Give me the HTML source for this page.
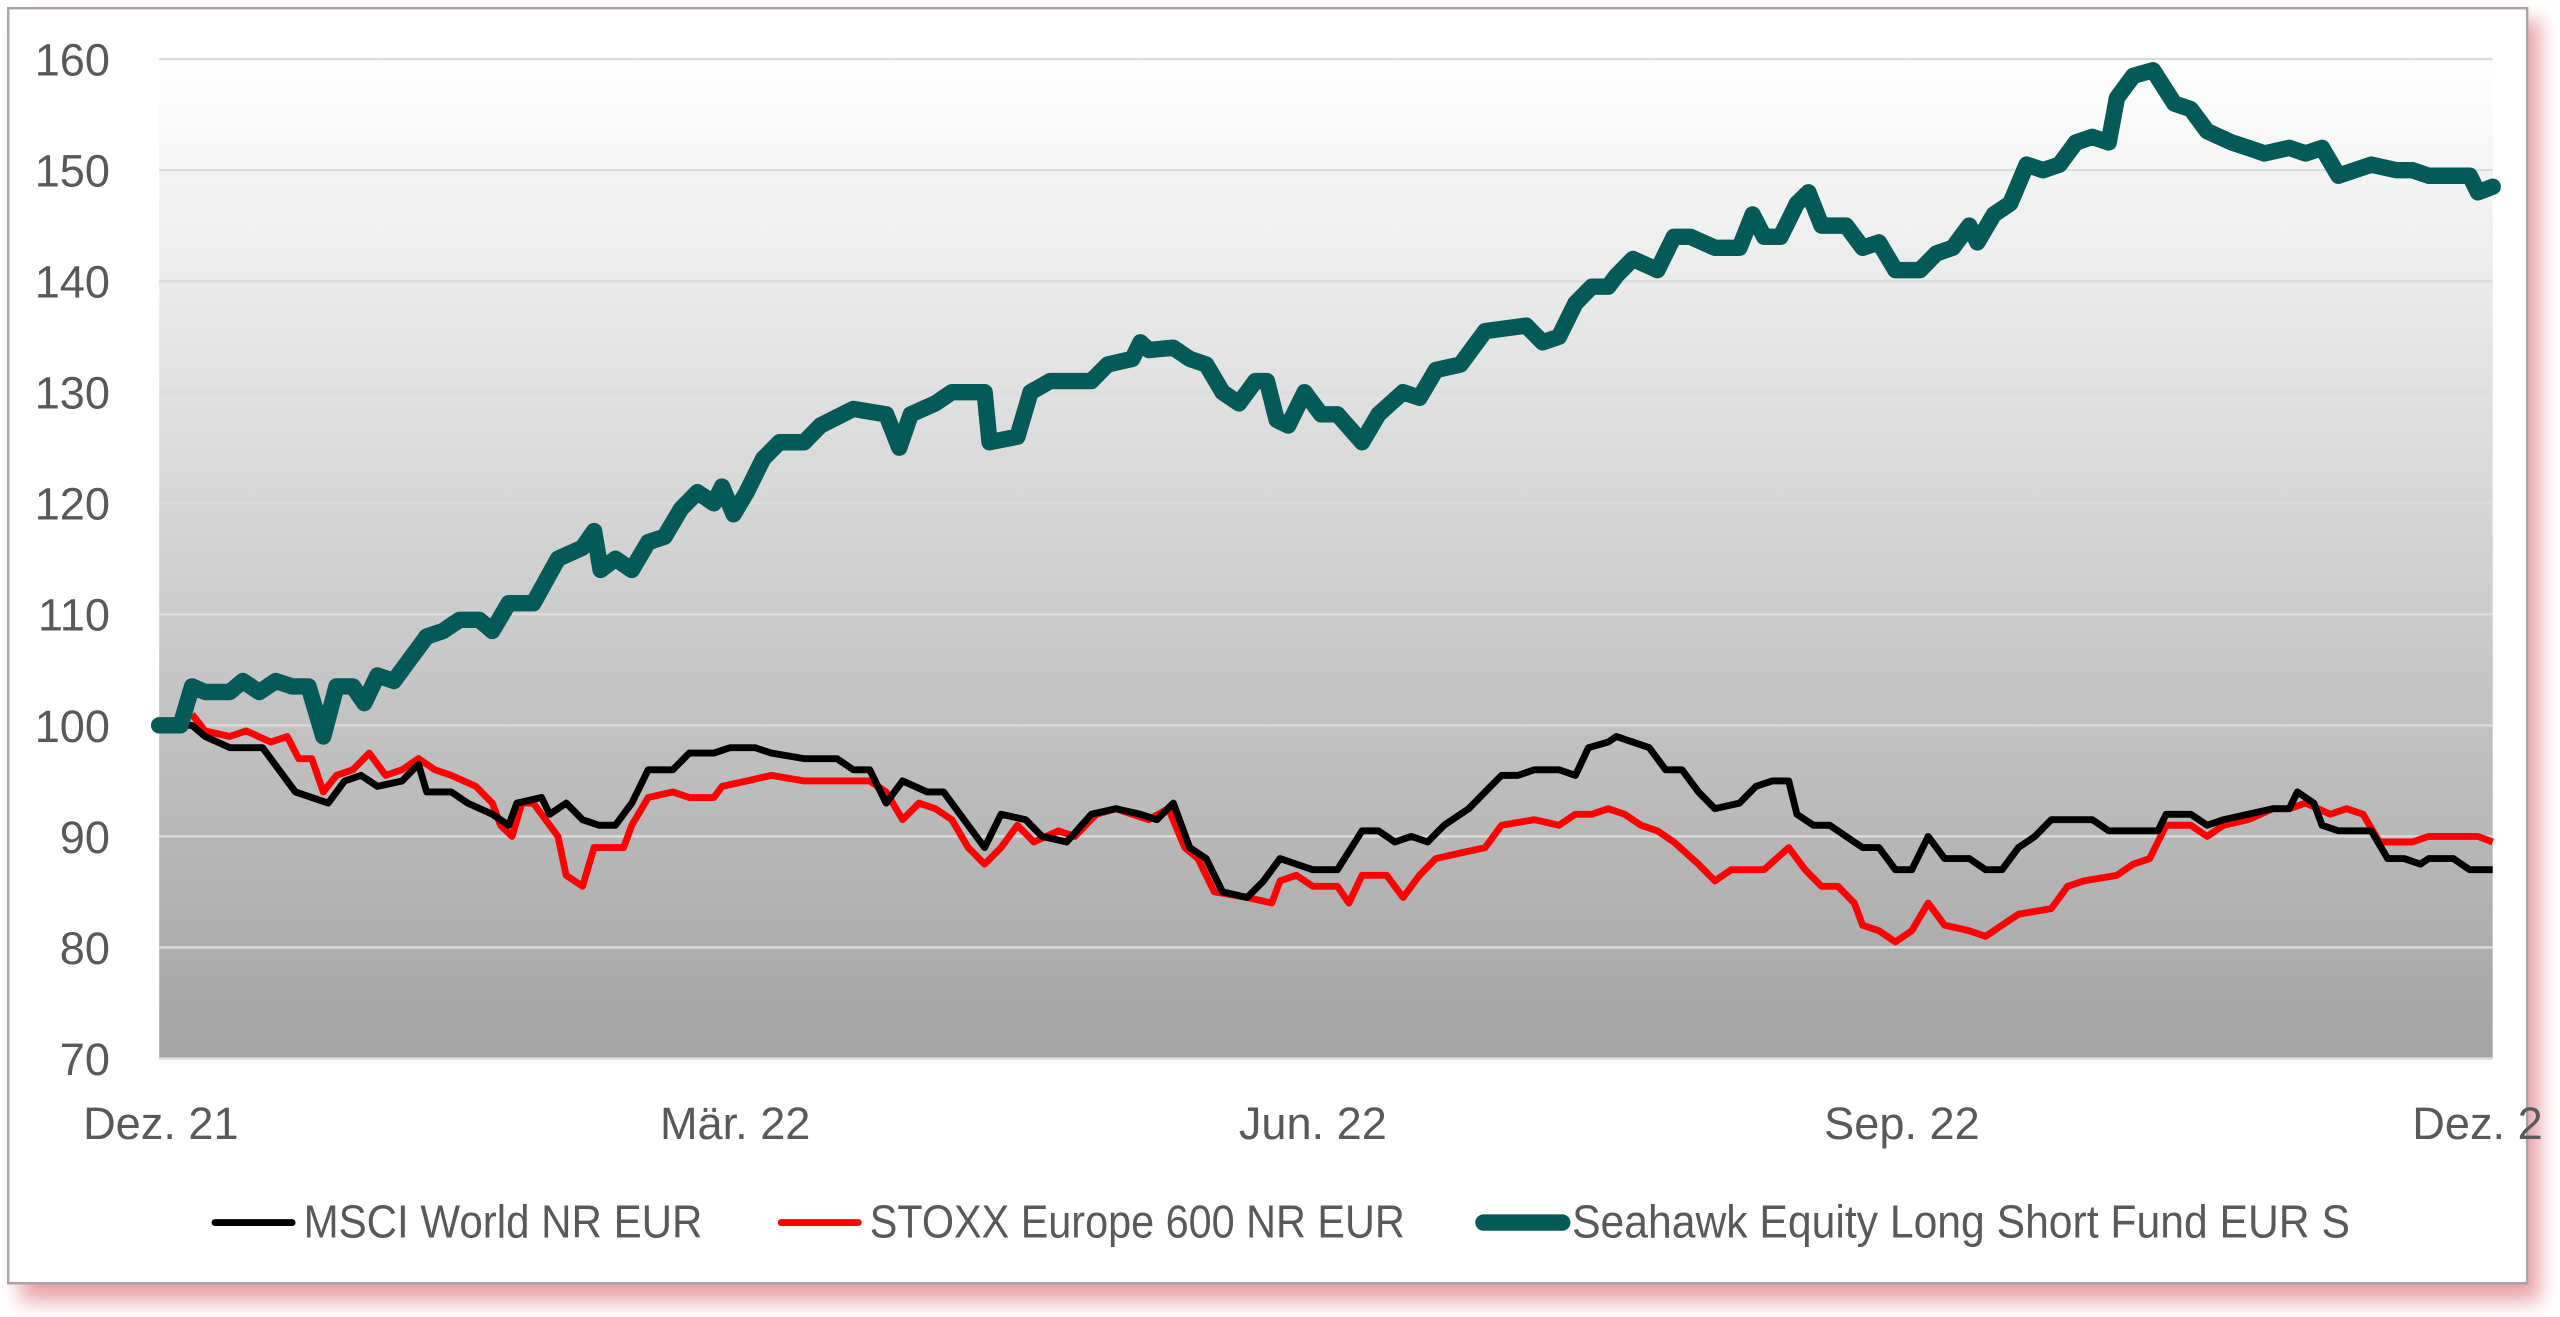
<!DOCTYPE html>
<html><head><meta charset="utf-8"><style>
html,body{margin:0;padding:0;background:#fff;overflow:hidden}
svg{display:block}
text{font-family:"Liberation Sans",sans-serif;fill:#595959}
</style></head><body>
<svg id="s" width="2560" height="1317" viewBox="0 0 1560 802.56" xmlns="http://www.w3.org/2000/svg">
<defs>
<linearGradient id="bg" x1="0" y1="0" x2="0" y2="1">
<stop offset="0" stop-color="#ffffff"/><stop offset="1" stop-color="#a3a3a3"/>
</linearGradient>
<filter id="sh" x="-5%" y="-5%" width="115%" height="115%"><feGaussianBlur stdDeviation="6"/></filter>
</defs>
<rect x="12" y="12" width="1536" height="781" fill="#e9a3a8" filter="url(#sh)"/>
<rect x="5" y="5" width="1535" height="777" fill="#fff" stroke="#a6a6a6" stroke-width="1.5"/>
<rect x="97" y="36" width="1422" height="609" fill="url(#bg)"/>
<g id="grid" stroke="#dcdcdc" stroke-width="1.4"></g>
<line x1="97" y1="645" x2="1519" y2="645" stroke="#d9d9d9" stroke-width="1.5"/>
<g id="yl" font-size="27.5" text-anchor="end"></g>
<g font-size="27.5" text-anchor="middle">
<text x="98" y="694">Dez. 21</text>
<text x="448" y="694">Mär. 22</text>
<text x="800" y="694">Jun. 22</text>
<text x="1159" y="694">Sep. 22</text>
<text x="1470" y="694" text-anchor="start">Dez. 2</text>
</g>
<polyline id="red" fill="none" stroke="#ff0000" stroke-width="4.2" stroke-linejoin="round"/>
<polyline id="blk" fill="none" stroke="#000" stroke-width="4.2" stroke-linejoin="round"/>
<polyline id="tel" fill="none" stroke="#035a56" stroke-width="10" stroke-linejoin="round" stroke-linecap="round"/>
<line x1="131" y1="745" x2="178" y2="745" stroke="#000" stroke-width="4.2" stroke-linecap="round"/>
<text x="185" y="754" font-size="28" textLength="243" lengthAdjust="spacingAndGlyphs">MSCI World NR EUR</text>
<line x1="476" y1="745" x2="523" y2="745" stroke="#f00" stroke-width="4.2" stroke-linecap="round"/>
<text x="530" y="754" font-size="28" textLength="326" lengthAdjust="spacingAndGlyphs">STOXX Europe 600 NR EUR</text>
<line x1="904" y1="745" x2="952" y2="745" stroke="#035a56" stroke-width="10" stroke-linecap="round"/>
<text x="958" y="754" font-size="28" textLength="474" lengthAdjust="spacingAndGlyphs">Seahawk Equity Long Short Fund EUR S</text>
</svg>
<script>
function Y(v){return 36+(160-v)*6.767;}
var g=document.getElementById('grid'),yl=document.getElementById('yl'),ns="http://www.w3.org/2000/svg";
for(var v=70;v<=160;v+=10){var l=document.createElementNS(ns,'line');l.setAttribute('x1',97);l.setAttribute('x2',1519);l.setAttribute('y1',Y(v));l.setAttribute('y2',Y(v));g.appendChild(l);
var t=document.createElementNS(ns,'text');t.setAttribute('x',67);t.setAttribute('y',Y(v)+10);t.textContent=v;yl.appendChild(t);}
function P(id,a){var s=[];for(var i=0;i<a.length;i+=2)s.push(a[i]+','+Y(a[i+1]).toFixed(1));document.getElementById(id).setAttribute('points',s.join(' '));}
P('tel',[97,100,110,100,117,103.5,125,103,140,103,148,104,158,103,168,104,178,103.5,188,103.5,197,99,205,103.5,215,103.5,222,102,230,104.5,240,104,250,106,260,108,270,108.5,280,109.5,292,109.5,300,108.5,310,111,325,111,340,115,355,116,362,117.5,366,114,375,115,385,114,395,116.5,405,117,415,119.5,425,121,435,120,440,121.5,447,119,455,121,465,124,475,125.5,490,125.5,500,127,520,128.5,540,128,548,125,555,128,570,129,580,130,600,130,603,125.5,620,126,628,130,640,131,665,131,675,132.5,690,133,695,134.5,700,133.8,715,134,725,133,735,132.5,745,130,755,129,765,131,772,131,778,127.5,785,127,795,130,805,128,815,128,830,125.5,840,128,855,130,865,129.5,875,132,890,132.5,905,135.5,930,136,940,134.5,950,135,960,138,970,139.5,980,139.5,985,140.5,995,142,1010,141,1020,144,1030,144,1045,143,1060,143,1068,146,1075,144,1085,144,1095,147,1102,148,1110,145,1125,145,1135,143,1145,143.5,1155,141,1170,141,1180,142.5,1190,143,1200,145,1205,143.5,1215,146,1225,147,1235,150.5,1245,150,1255,150.5,1265,152.5,1275,153,1285,152.5,1290,156.5,1300,158.5,1312,159,1325,156,1335,155.5,1345,153.5,1360,152.5,1370,152,1380,151.5,1395,152,1405,151.5,1415,152,1425,149.5,1435,150,1445,150.5,1460,150,1470,150,1480,149.5,1495,149.5,1505,149.5,1510,148,1519,148.5]);
P('blk',[97,100,117,100,125,99,140,98,160,98,170,96,180,94,200,93,210,95,220,95.5,230,94.5,245,95,255,96.5,260,94,275,94,285,93,300,92,310,91,315,93,330,93.5,335,92,345,93,355,91.5,365,91,375,91,385,93,395,96,410,96,420,97.5,435,97.5,445,98,460,98,470,97.5,490,97,510,97,520,96,530,96,540,93,550,95,565,94,575,94,585,92,600,89,610,92,625,91.5,635,90,650,89.5,665,92,680,92.5,695,92,705,91.5,715,93,725,89,735,88,745,85,760,84.5,770,86,780,88,790,87.5,800,87,815,87,830,90.5,840,90.5,850,89.5,860,90,870,89.5,880,91,895,92.5,905,94,915,95.5,925,95.5,935,96,950,96,960,95.5,968,98,980,98.5,985,99,995,98.5,1005,98,1015,96,1025,96,1035,94,1045,92.5,1060,93,1070,94.5,1080,95,1090,95,1095,92,1105,91,1115,91,1125,90,1135,89,1145,89,1155,87,1165,87,1175,90,1185,88,1200,88,1210,87,1220,87,1230,89,1240,90,1250,91.5,1260,91.5,1275,91.5,1285,90.5,1300,90.5,1315,90.5,1320,92,1335,92,1345,91,1355,91.5,1370,92,1385,92.5,1395,92.5,1400,94,1410,93,1415,91,1425,90.5,1445,90.5,1455,88,1465,88,1475,87.5,1480,88,1495,88,1505,87,1519,87]);
P('red',[117,101,125,99.5,140,99,150,99.5,165,98.5,175,99,182,97,190,97,197,94,205,95.5,215,96,225,97.5,235,95.5,245,96,255,97,265,96,275,95.5,290,94.5,300,93,305,91,312,90,318,93,325,93,330,92,340,90,345,86.5,355,85.5,362,89,380,89,385,91,395,93.5,410,94,420,93.5,435,93.5,440,94.5,455,95,470,95.5,490,95,530,95,540,94,550,91.5,560,93,570,92.5,580,91.5,590,89,600,87.5,610,89,620,91,630,89.5,645,90.5,655,90,668,92,680,92.5,690,92,700,91.5,712,92.5,722,89,730,88,740,85,760,84.5,775,84,780,86,790,86.5,800,85.5,815,85.5,822,84,830,86.5,845,86.5,855,84.5,865,86.5,875,88,890,88.5,905,89,915,91,935,91.5,950,91,960,92,970,92,980,92.5,990,92,1000,91,1010,90.5,1020,89.5,1035,87.5,1045,86,1055,87,1075,87,1090,89,1100,87,1110,85.5,1120,85.5,1130,84,1135,82,1145,81.5,1155,80.5,1165,81.5,1175,84,1185,82,1200,81.5,1210,81,1220,82,1230,83,1250,83.5,1260,85.5,1270,86,1290,86.5,1300,87.5,1310,88,1320,91,1335,91,1345,90,1355,91,1370,91.5,1385,92.5,1395,92.5,1405,93,1420,92,1430,92.5,1440,92,1450,89.5,1470,89.5,1480,90,1510,90,1519,89.5]);
</script>
</body></html>
